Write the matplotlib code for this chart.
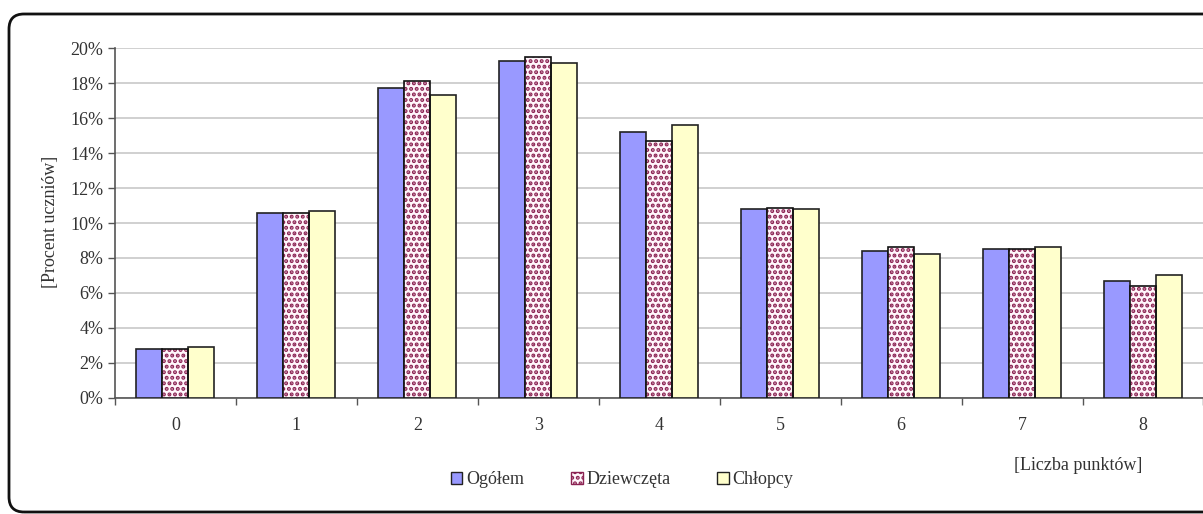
import numpy as np
import matplotlib
matplotlib.use("Agg")
import matplotlib.pyplot as plt
from matplotlib.patches import FancyBboxPatch, Patch
from matplotlib.ticker import PercentFormatter, FixedLocator, NullFormatter

plt.rcParams['font.family'] = ['Liberation Serif', 'DejaVu Serif']
plt.rcParams['hatch.linewidth'] = 2.0

# dane (procent uczniow)
punkty = ['0', '1', '2', '3', '4', '5', '6', '7', '8']
ogolem = [2.8, 10.6, 17.7, 19.3, 15.2, 10.8, 8.4, 8.5, 6.7]
dziewczeta = [2.8, 10.6, 18.1, 19.5, 14.7, 10.85, 8.65, 8.5, 6.4]
chlopcy = [2.9, 10.7, 17.3, 19.15, 15.6, 10.8, 8.25, 8.6, 7.0]

W, H = 1203, 514
fs = 13
tc = '#333333'
fig = plt.figure(figsize=(W / 100, H / 100), dpi=100)
ax = fig.add_axes([115 / W, (H - 397.7) / H, (1203.5 - 115) / W, (397.7 - 48.3) / H])

x = np.arange(len(punkty))
w = 0.215
ax.bar(x - w, ogolem, w, color='#9999FF', edgecolor='#222222', linewidth=1.2, zorder=3)
ax.bar(x, dziewczeta, w, color='#FFF6FB', edgecolor='#8B2252', hatch='...', linewidth=0, zorder=3)
ax.bar(x, dziewczeta, w, fill=False, edgecolor='#111111', linewidth=1.2, zorder=4)
ax.bar(x + w, chlopcy, w, color='#FFFFCC', edgecolor='#222222', linewidth=1.2, zorder=3)

ax.set_xlim(-0.5, len(punkty) - 0.5)
ax.set_ylim(0, 20)
ax.set_yticks(np.arange(0, 21, 2))
ax.yaxis.set_major_formatter(PercentFormatter(decimals=0))
ax.grid(axis='y', color='#C8C8C8', linewidth=1.2, zorder=0)
ax.set_axisbelow(True)

# kreski miedzy kategoriami, etykiety w srodku
ax.xaxis.set_major_locator(FixedLocator(np.arange(-0.5, len(punkty), 1)))
ax.xaxis.set_major_formatter(NullFormatter())
ax.xaxis.set_minor_locator(FixedLocator(x))
ax.set_xticklabels(punkty, minor=True)
ax.tick_params(axis='x', which='minor', length=0, pad=14, labelsize=fs, labelcolor=tc)
ax.tick_params(axis='x', which='major', length=5, width=1, color='#555555', direction='out')
ax.tick_params(axis='y', length=5, width=1, color='#555555', labelsize=fs, labelcolor=tc)

for s in ['top', 'right']:
    ax.spines[s].set_visible(False)
for s in ['left', 'bottom']:
    ax.spines[s].set_color('#555555')
    ax.spines[s].set_linewidth(1.2)

fig.text(50 / W, 1 - 222 / H, '[Procent uczniów]', rotation=90, ha='center', va='center',
         fontsize=fs, color=tc)
fig.text(1078 / W, 1 - 466 / H, '[Liczba punktów]', ha='center', va='center',
         fontsize=fs, color=tc)

handles = [Patch(facecolor='#9999FF', edgecolor='#222222'),
           Patch(facecolor='#FFF6FB', edgecolor='#8B2252', hatch='...'),
           Patch(facecolor='#FFFFCC', edgecolor='#222222')]
fig.legend(handles, ['Ogółem', 'Dziewczęta', 'Chłopcy'], loc='center',
           bbox_to_anchor=(622 / W, 1 - 480 / H), ncol=3, frameon=False,
           handlelength=0.65, handleheight=0.65, handletextpad=0.2, columnspacing=2.6,
           fontsize=fs, labelcolor=tc)

# zaokraglona ramka wokol wykresu (w calach)
frame = FancyBboxPatch((0.09, 0.02), 13.0, (H - 16) / 100,
                       boxstyle='round,pad=0,rounding_size=0.15',
                       transform=fig.dpi_scale_trans, fill=False,
                       edgecolor='#111111', linewidth=2)
fig.patches.append(frame)

fig.savefig('out.png', dpi=100)
